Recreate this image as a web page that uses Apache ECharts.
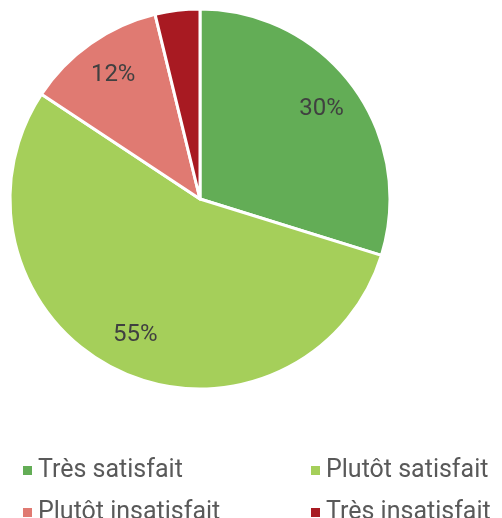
<!DOCTYPE html>
<html>
<head>
<meta charset="utf-8">
<script src="https://cdn.jsdelivr.net/npm/echarts@6/dist/echarts.min.js"></script>
<style>
  html, body { margin: 0; padding: 0; background: #fff; }
  #chart { width: 502px; height: 518px; }
</style>
</head>
<body>
<div id="chart"></div>
<script>
// données
var categories = ['Très satisfait', 'Plutôt satisfait', 'Plutôt insatisfait', 'Très insatisfait'];
var values = [29.8, 54.5, 11.9, 3.8];
var labels = ['30%', '55%', '12%', ''];
var colors = ['#63ad56', '#a5cf5a', '#e07a72', '#a81a22'];

var chart = echarts.init(document.getElementById('chart'));

var pieData = categories.map(function (name, i) {
    return { name: name, value: values[i] };
});
var labelData = categories.map(function (name, i) {
    return { name: name, value: values[i], label: { show: labels[i] !== '', formatter: labels[i] } };
});

var legendText = { color: '#595959', fontSize: 25, lineHeight: 24, fontFamily: 'Roboto' };

chart.setOption({
    color: colors,
    animation: false,
    legend: [
        {
            data: [categories[0], categories[2]],
            orient: 'vertical',
            left: 16, top: 453, height: 90,
            itemWidth: 11, itemHeight: 11, itemGap: 17,
            icon: 'rect',
            textStyle: legendText
        },
        {
            data: [categories[1], categories[3]],
            orient: 'vertical',
            left: 304, top: 453, height: 90,
            itemWidth: 11, itemHeight: 11, itemGap: 17,
            icon: 'rect',
            textStyle: legendText
        }
    ],
    series: [
        {
            type: 'pie',
            center: [200, 199],
            radius: [0, 190],
            startAngle: 90,
            clockwise: true,
            label: { show: false },
            labelLine: { show: false },
            itemStyle: { borderColor: '#ffffff', borderWidth: 3 },
            emphasis: { disabled: true },
            data: pieData
        },
        {
            // série invisible pour placer les étiquettes
            type: 'pie',
            center: [200, 199],
            radius: [106, 190],
            startAngle: 90,
            clockwise: true,
            silent: true,
            legendHoverLink: false,
            itemStyle: { color: 'rgba(0,0,0,0)' },
            label: {
                show: true,
                position: 'inside',
                color: '#404040',
                fontSize: 24,
                fontFamily: 'Roboto'
            },
            labelLine: { show: false },
            data: labelData
        }
    ]
});

window.addEventListener('resize', function () {
    chart.resize();
});
</script>
</body>
</html>
